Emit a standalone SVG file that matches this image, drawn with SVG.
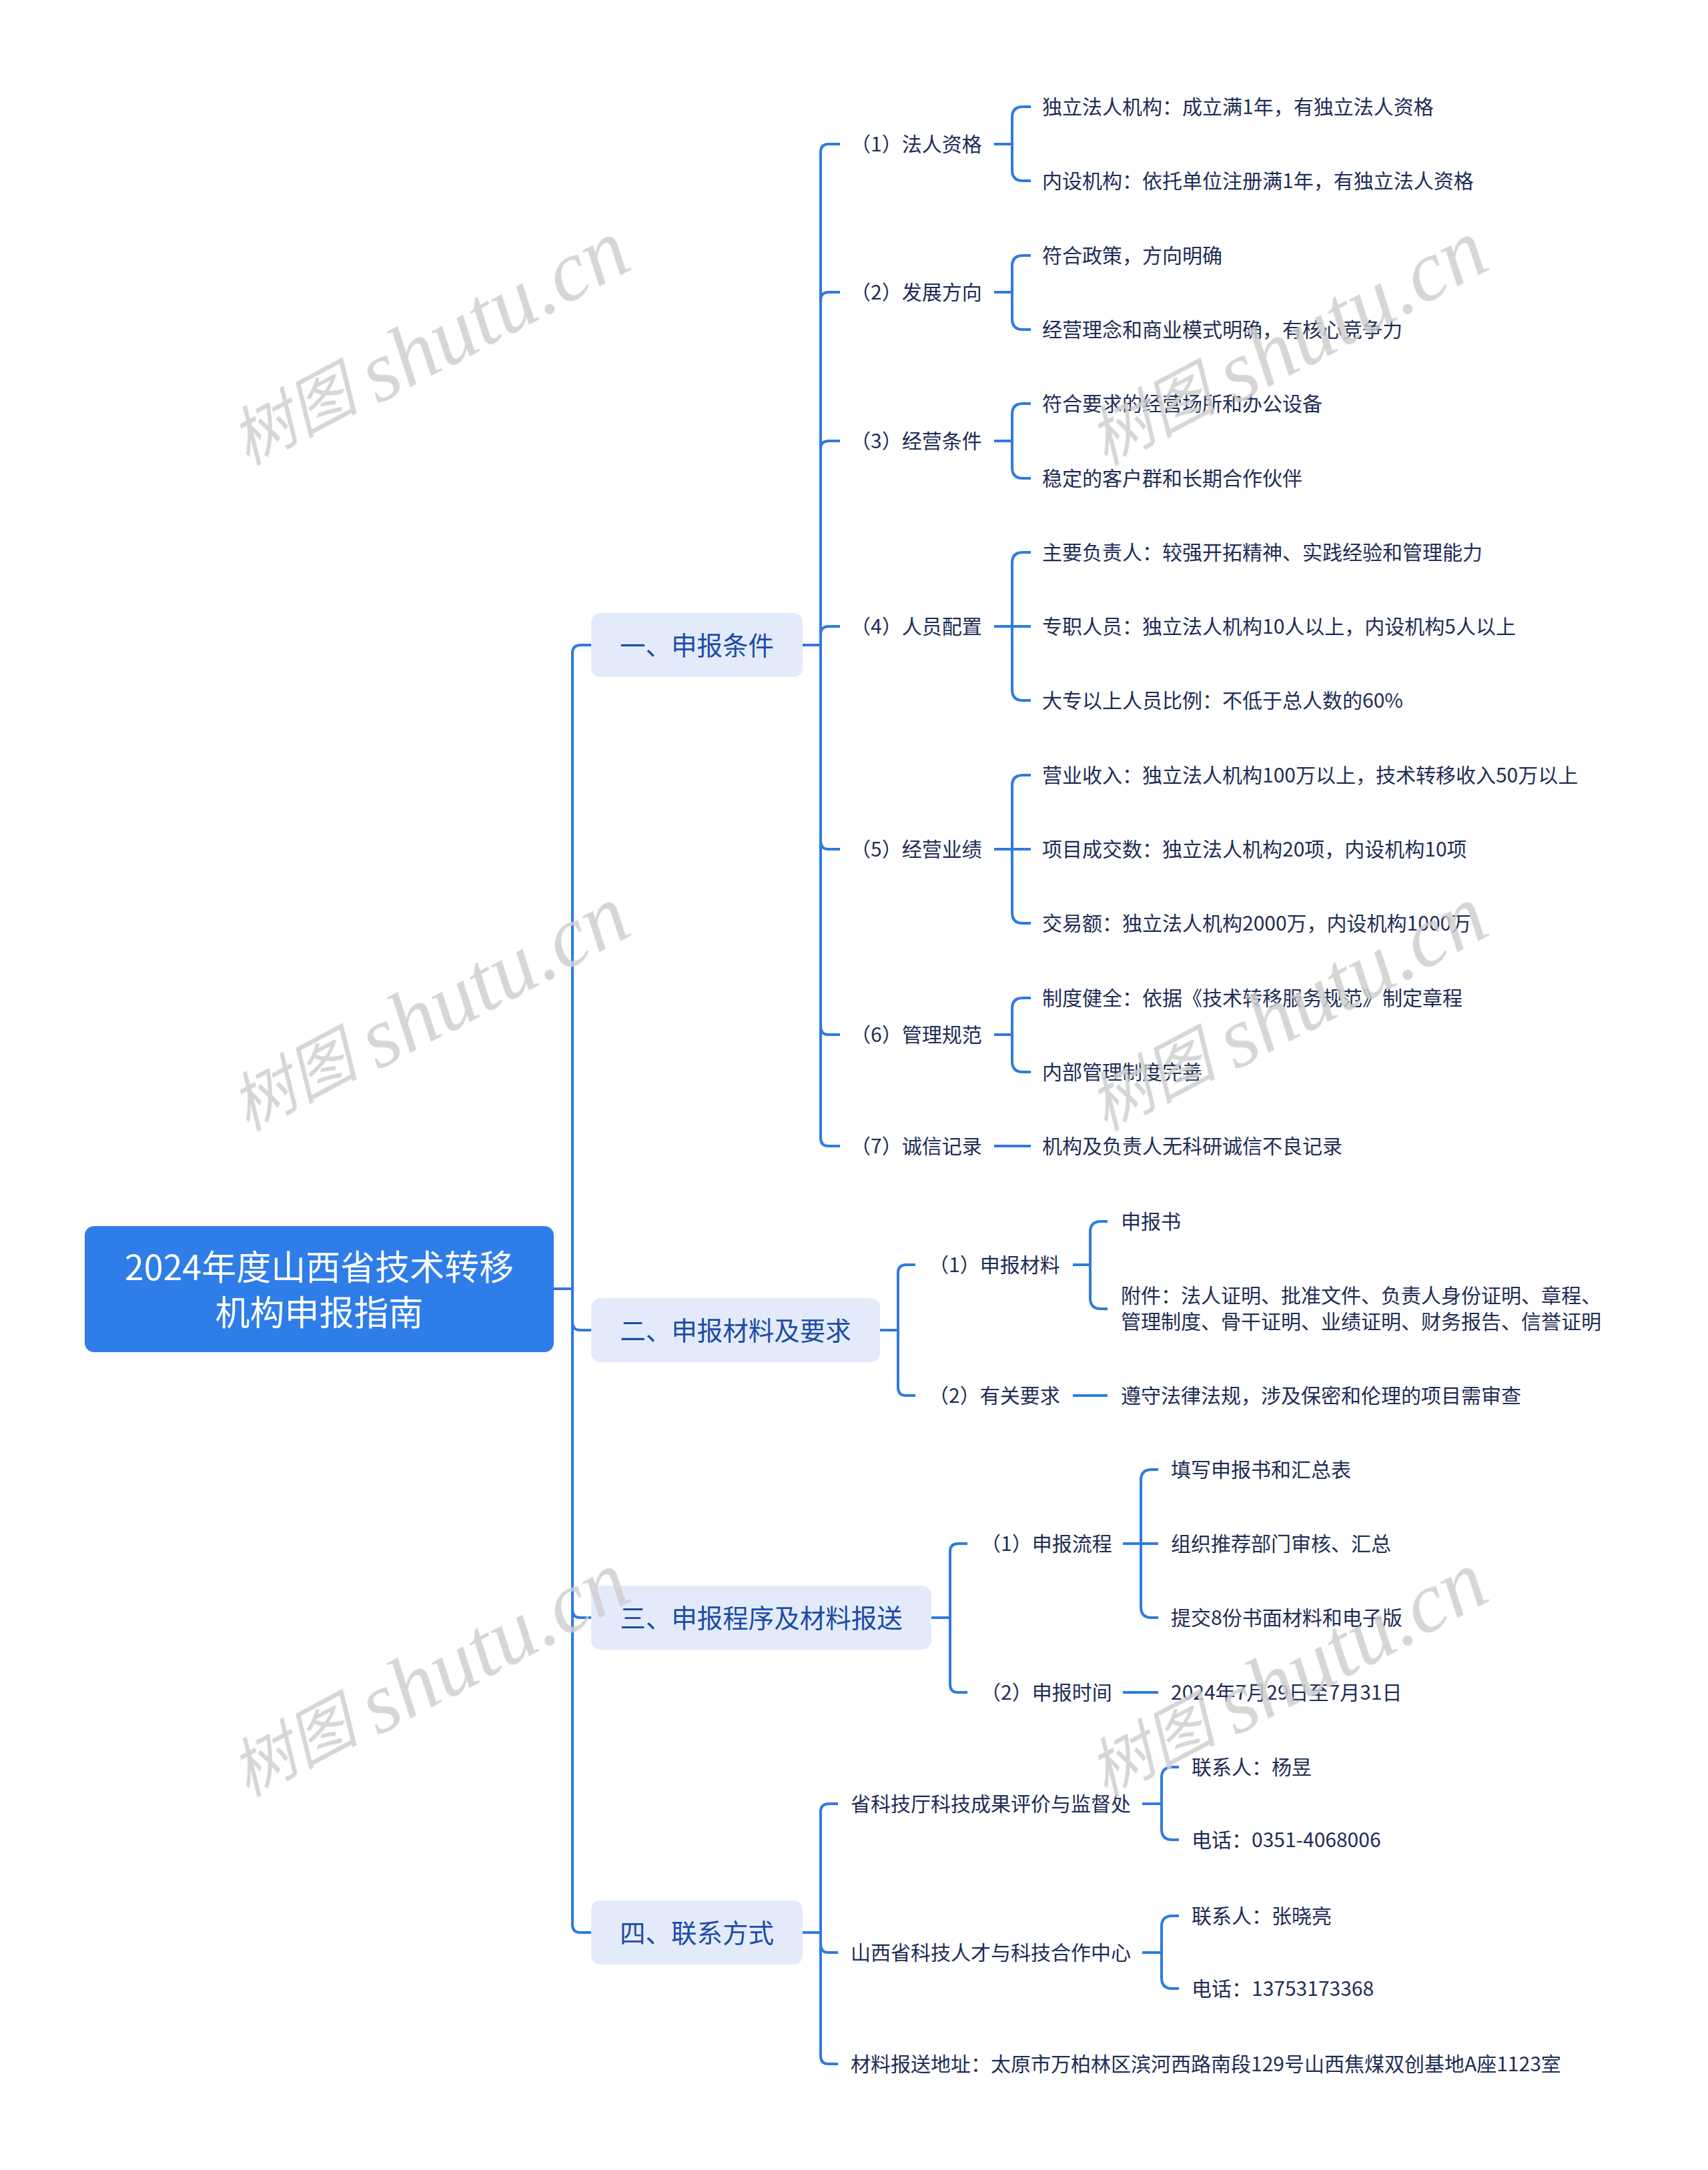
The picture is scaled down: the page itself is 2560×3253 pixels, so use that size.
<svg xmlns="http://www.w3.org/2000/svg" width="2560" height="3253" viewBox="0 0 2560 3253">
<style>
.ln{fill:none;stroke:#2F7AE0;stroke-width:4}
.t0{font-family:"Noto Sans CJK SC","Noto Sans",sans-serif;font-size:52px;fill:#FFFFFF;text-anchor:middle;dominant-baseline:central;transform:translateY(-2px)}
.t1{font-family:"Noto Sans CJK SC","Noto Sans",sans-serif;font-size:38.5px;fill:#1E4BA6;text-anchor:middle;dominant-baseline:central;transform:translateY(-2px)}
.t2{font-family:"Noto Sans CJK SC","Noto Sans",sans-serif;font-size:30px;fill:#1D2C55;dominant-baseline:central;transform:translateY(-2px)}
.b1{fill:#E3EBFB}
.wm{font-family:"Liberation Serif","Noto Sans CJK SC",serif;font-style:italic;fill:#CFCFCF;text-anchor:middle;dominant-baseline:central}
</style>
<rect width="2560" height="3253" fill="#FFFFFF"/>
<g id="connectors">
<path class="ln" d="M830,1932 H858 V979 Q858,967 870,967 H886"/>
<path class="ln" d="M858,1932 V1982 Q858,1994 870,1994 H886"/>
<path class="ln" d="M858,1932 V2413 Q858,2425 870,2425 H886"/>
<path class="ln" d="M858,1932 V2885 Q858,2897 870,2897 H886"/>
<path class="ln" d="M1203,967 H1230 V228 Q1230,216 1242,216 H1259"/>
<path class="ln" d="M1203,967 H1230 V450 Q1230,438 1242,438 H1259"/>
<path class="ln" d="M1203,967 H1230 V673 Q1230,661 1242,661 H1259"/>
<path class="ln" d="M1203,967 H1230 V951 Q1230,939 1242,939 H1259"/>
<path class="ln" d="M1203,967 H1230 V1261 Q1230,1273 1242,1273 H1259"/>
<path class="ln" d="M1203,967 H1230 V1539 Q1230,1551 1242,1551 H1259"/>
<path class="ln" d="M1203,967 H1230 V1706 Q1230,1718 1242,1718 H1259"/>
<path class="ln" d="M1490,216 H1517 V176 Q1517,160 1533,160 H1545"/>
<path class="ln" d="M1490,216 H1517 V255 Q1517,271 1533,271 H1545"/>
<path class="ln" d="M1490,438 H1517 V399 Q1517,383 1533,383 H1545"/>
<path class="ln" d="M1490,438 H1517 V478 Q1517,494 1533,494 H1545"/>
<path class="ln" d="M1490,661 H1517 V621 Q1517,605 1533,605 H1545"/>
<path class="ln" d="M1490,661 H1517 V701 Q1517,717 1533,717 H1545"/>
<path class="ln" d="M1490,939 H1517 V844 Q1517,828 1533,828 H1545"/>
<path class="ln" d="M1490,939 H1545"/>
<path class="ln" d="M1490,939 H1517 V1034 Q1517,1050 1533,1050 H1545"/>
<path class="ln" d="M1490,1273 H1517 V1178 Q1517,1162 1533,1162 H1545"/>
<path class="ln" d="M1490,1273 H1545"/>
<path class="ln" d="M1490,1273 H1517 V1368 Q1517,1384 1533,1384 H1545"/>
<path class="ln" d="M1490,1551 H1517 V1512 Q1517,1496 1533,1496 H1545"/>
<path class="ln" d="M1490,1551 H1517 V1591 Q1517,1607 1533,1607 H1545"/>
<path class="ln" d="M1490,1718 H1545"/>
<path class="ln" d="M1319,1994 H1346 V1908 Q1346,1896 1358,1896 H1372"/>
<path class="ln" d="M1319,1994 H1346 V2080 Q1346,2092 1358,2092 H1372"/>
<path class="ln" d="M1608,1896 H1634 V1847 Q1634,1831 1650,1831 H1660"/>
<path class="ln" d="M1608,1896 H1634 V1946 Q1634,1962 1650,1962 H1660"/>
<path class="ln" d="M1608,2092 H1660"/>
<path class="ln" d="M1396,2425 H1424 V2326 Q1424,2314 1436,2314 H1450"/>
<path class="ln" d="M1396,2425 H1424 V2525 Q1424,2537 1436,2537 H1450"/>
<path class="ln" d="M1683,2314 H1710 V2219 Q1710,2203 1726,2203 H1736"/>
<path class="ln" d="M1683,2314 H1736"/>
<path class="ln" d="M1683,2314 H1710 V2409 Q1710,2425 1726,2425 H1736"/>
<path class="ln" d="M1683,2537 H1736"/>
<path class="ln" d="M1203,2897 H1230 V2716 Q1230,2704 1242,2704 H1256"/>
<path class="ln" d="M1203,2897 H1230 V2915 Q1230,2927 1242,2927 H1256"/>
<path class="ln" d="M1203,2897 H1230 V3082 Q1230,3094 1242,3094 H1256"/>
<path class="ln" d="M1712,2704 H1741 V2665 Q1741,2649 1757,2649 H1767"/>
<path class="ln" d="M1712,2704 H1741 V2742 Q1741,2758 1757,2758 H1767"/>
<path class="ln" d="M1712,2927 H1741 V2888 Q1741,2872 1757,2872 H1767"/>
<path class="ln" d="M1712,2927 H1741 V2965 Q1741,2981 1757,2981 H1767"/>
</g>
<g id="root">
<rect x="127" y="1838" width="703" height="189" rx="14" fill="#2E7DE8"/>
<text class="t0" x="478.5" y="1898">2024年度山西省技术转移</text>
<text class="t0" x="478.5" y="1966">机构申报指南</text>
</g>
<g id="n1"><rect class="b1" x="886" y="919" width="317" height="96" rx="14"/><text class="t1" x="1044.5" y="967">一、申报条件</text></g>
<g id="n2"><rect class="b1" x="886" y="1946" width="433" height="96" rx="14"/><text class="t1" x="1102.5" y="1994">二、申报材料及要求</text></g>
<g id="n3"><rect class="b1" x="886" y="2377" width="510" height="96" rx="14"/><text class="t1" x="1141" y="2425">三、申报程序及材料报送</text></g>
<g id="n4"><rect class="b1" x="886" y="2849" width="317" height="96" rx="14"/><text class="t1" x="1044.5" y="2897">四、联系方式</text></g>
<g id="n1-1"><text class="t2" x="1275" y="216">（1）法人资格</text></g>
<g id="n1-1-1"><text class="t2" x="1562" y="160">独立法人机构：成立满1年，有独立法人资格</text></g>
<g id="n1-1-2"><text class="t2" x="1562" y="271">内设机构：依托单位注册满1年，有独立法人资格</text></g>
<g id="n1-2"><text class="t2" x="1275" y="438">（2）发展方向</text></g>
<g id="n1-2-1"><text class="t2" x="1562" y="383">符合政策，方向明确</text></g>
<g id="n1-2-2"><text class="t2" x="1562" y="494">经营理念和商业模式明确，有核心竞争力</text></g>
<g id="n1-3"><text class="t2" x="1275" y="661">（3）经营条件</text></g>
<g id="n1-3-1"><text class="t2" x="1562" y="605">符合要求的经营场所和办公设备</text></g>
<g id="n1-3-2"><text class="t2" x="1562" y="717">稳定的客户群和长期合作伙伴</text></g>
<g id="n1-4"><text class="t2" x="1275" y="939">（4）人员配置</text></g>
<g id="n1-4-1"><text class="t2" x="1562" y="828">主要负责人：较强开拓精神、实践经验和管理能力</text></g>
<g id="n1-4-2"><text class="t2" x="1562" y="939">专职人员：独立法人机构10人以上，内设机构5人以上</text></g>
<g id="n1-4-3"><text class="t2" x="1562" y="1050">大专以上人员比例：不低于总人数的60%</text></g>
<g id="n1-5"><text class="t2" x="1275" y="1273">（5）经营业绩</text></g>
<g id="n1-5-1"><text class="t2" x="1562" y="1162">营业收入：独立法人机构100万以上，技术转移收入50万以上</text></g>
<g id="n1-5-2"><text class="t2" x="1562" y="1273">项目成交数：独立法人机构20项，内设机构10项</text></g>
<g id="n1-5-3"><text class="t2" x="1562" y="1384">交易额：独立法人机构2000万，内设机构1000万</text></g>
<g id="n1-6"><text class="t2" x="1275" y="1551">（6）管理规范</text></g>
<g id="n1-6-1"><text class="t2" x="1562" y="1496">制度健全：依据《技术转移服务规范》制定章程</text></g>
<g id="n1-6-2"><text class="t2" x="1562" y="1607">内部管理制度完善</text></g>
<g id="n1-7"><text class="t2" x="1275" y="1718">（7）诚信记录</text></g>
<g id="n1-7-1"><text class="t2" x="1562" y="1718">机构及负责人无科研诚信不良记录</text></g>
<g id="n2-1"><text class="t2" x="1392" y="1896">（1）申报材料</text></g>
<g id="n2-1-1"><text class="t2" x="1680" y="1831">申报书</text></g>
<g id="n2-1-2"><text class="t2" x="1680" y="1942">附件：法人证明、批准文件、负责人身份证明、章程、</text><text class="t2" x="1680" y="1981">管理制度、骨干证明、业绩证明、财务报告、信誉证明</text></g>
<g id="n2-2"><text class="t2" x="1392" y="2092">（2）有关要求</text></g>
<g id="n2-2-1"><text class="t2" x="1680" y="2092">遵守法律法规，涉及保密和伦理的项目需审查</text></g>
<g id="n3-1"><text class="t2" x="1470" y="2314">（1）申报流程</text></g>
<g id="n3-1-1"><text class="t2" x="1755" y="2203">填写申报书和汇总表</text></g>
<g id="n3-1-2"><text class="t2" x="1755" y="2314">组织推荐部门审核、汇总</text></g>
<g id="n3-1-3"><text class="t2" x="1755" y="2425">提交8份书面材料和电子版</text></g>
<g id="n3-2"><text class="t2" x="1470" y="2537">（2）申报时间</text></g>
<g id="n3-2-1"><text class="t2" x="1755" y="2537">2024年7月29日至7月31日</text></g>
<g id="n4-1"><text class="t2" x="1275" y="2704">省科技厅科技成果评价与监督处</text></g>
<g id="n4-1-1"><text class="t2" x="1786" y="2649">联系人：杨昱</text></g>
<g id="n4-1-2"><text class="t2" x="1786" y="2758">电话：0351-4068006</text></g>
<g id="n4-2"><text class="t2" x="1275" y="2927">山西省科技人才与科技合作中心</text></g>
<g id="n4-2-1"><text class="t2" x="1786" y="2872">联系人：张晓亮</text></g>
<g id="n4-2-2"><text class="t2" x="1786" y="2981">电话：13753173368</text></g>
<g id="n4-3"><text class="t2" x="1275" y="3094">材料报送地址：太原市万柏林区滨河西路南段129号山西焦煤双创基地A座1123室</text></g>
<g id="watermarks" opacity="0.85">
<text class="wm" transform="translate(643,516) rotate(-28)"><tspan font-size="96">树图 </tspan><tspan font-size="130">shutu.cn</tspan></text>
<text class="wm" transform="translate(1929,516) rotate(-28)"><tspan font-size="96">树图 </tspan><tspan font-size="130">shutu.cn</tspan></text>
<text class="wm" transform="translate(643,1514) rotate(-28)"><tspan font-size="96">树图 </tspan><tspan font-size="130">shutu.cn</tspan></text>
<text class="wm" transform="translate(1929,1514) rotate(-28)"><tspan font-size="96">树图 </tspan><tspan font-size="130">shutu.cn</tspan></text>
<text class="wm" transform="translate(643,2512) rotate(-28)"><tspan font-size="96">树图 </tspan><tspan font-size="130">shutu.cn</tspan></text>
<text class="wm" transform="translate(1929,2512) rotate(-28)"><tspan font-size="96">树图 </tspan><tspan font-size="130">shutu.cn</tspan></text>
</g>
</svg>
